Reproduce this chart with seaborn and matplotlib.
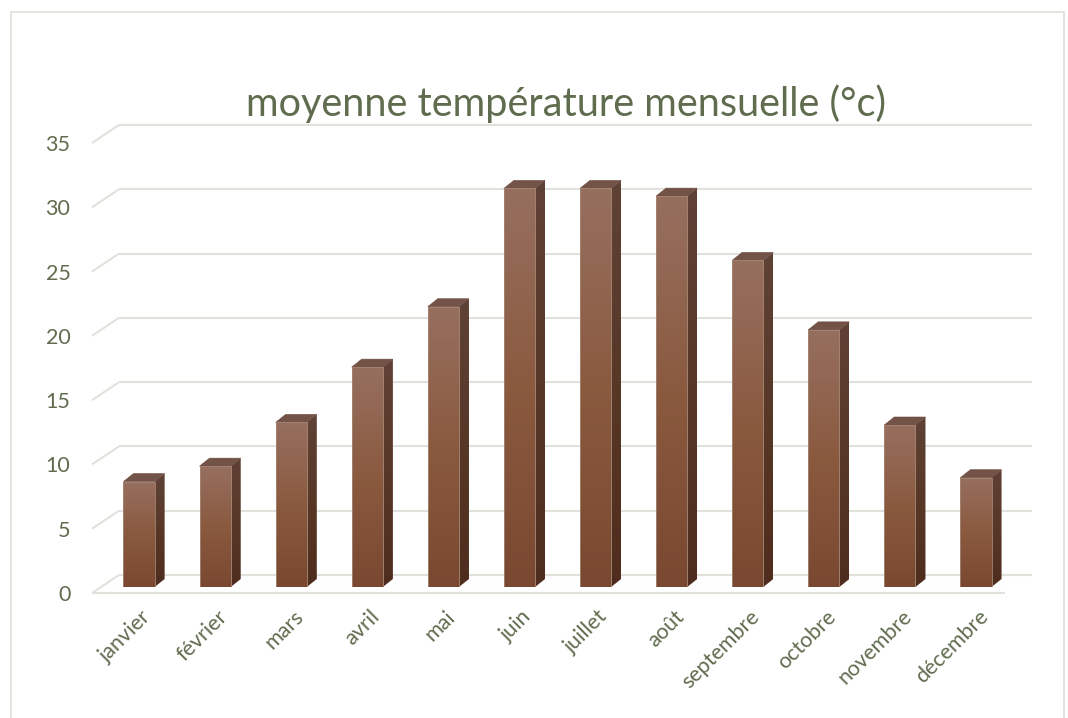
import matplotlib
matplotlib.use("Agg")
import matplotlib.pyplot as plt
import matplotlib.transforms as mtransforms
from matplotlib.colors import LinearSegmentedColormap
from matplotlib.patches import Polygon, Rectangle
import seaborn as sns
import numpy as np

months = ["janvier", "février", "mars", "avril", "mai", "juin",
          "juillet", "août", "septembre", "octobre", "novembre", "décembre"]
temps = [8.2, 9.4, 12.8, 17.1, 21.8, 31.0, 31.0, 30.4, 25.4, 20.0, 12.6, 8.5]
yticks = [0, 5, 10, 15, 20, 25, 30, 35]
title = "moyenne température mensuelle (°c)"

text_col = "#5f6c4e"
grid_col = "#e2e2dc"
front_cmap = LinearSegmentedColormap.from_list("front", ["#7a4830", "#8a5a3f", "#976f5f"])
side_cmap = LinearSegmentedColormap.from_list("side", ["#4f2d1e", "#573726", "#5f4236"])
top_col = "#735347"

sns.set_style("white")
plt.rcParams["font.family"] = ["Lato", "DejaVu Sans"]

W, H, DPI = 1068, 718, 100
fig = plt.figure(figsize=(W / DPI, H / DPI), dpi=DPI)
# axes: bars' base plane
ax_l, ax_r, ax_b, ax_t = 101, 1014, 587, 137
ax = fig.add_axes([ax_l / W, 1 - ax_b / H, (ax_r - ax_l) / W, (ax_b - ax_t) / H])

sns.barplot(x=months, y=temps, order=months, width=0.41, color="#8a5a3f",
            saturation=1, ax=ax, zorder=3)

xlim = (-0.5, len(months) - 0.5)
ylim = (0, 35)
ppx = (ax_r - ax_l) / (xlim[1] - xlim[0])
ppy = (ax_b - ax_t) / (ylim[1] - ylim[0])

# depth offsets (pixels -> data units)
fx, fy = -9 / ppx, -6 / ppy     # front plane
bx, by = 18 / ppx, 12 / ppy     # back wall
dx, dy = 10 / ppx, 8 / ppy      # bar depth

grad = np.linspace(0, 1, 256).reshape(-1, 1)

# gridlines on the back wall plus slanted side-wall segment
for v in yticks:
    ax.plot([xlim[0] + bx, xlim[1] + bx], [v + by, v + by], color=grid_col,
            lw=1.5, zorder=0, clip_on=False, solid_capstyle="butt")
    ax.plot([xlim[0] + fx, xlim[0] + bx], [v + fy, v + by], color=grid_col,
            lw=1.5, zorder=0, clip_on=False, solid_capstyle="butt")
# floor front edge
ax.plot([xlim[0] + fx, xlim[1] + fx], [fy, fy], color=grid_col, lw=1.5,
        zorder=0, clip_on=False, solid_capstyle="butt")

for p in list(ax.patches):
    x0 = p.get_x()
    w = p.get_width()
    h = p.get_height()
    p.set_facecolor("none")
    p.set_edgecolor("#a68676")
    p.set_linewidth(0.6)
    p.set_zorder(3.2)
    im = ax.imshow(grad, extent=[x0, x0 + w, 0, h], origin="lower",
                   cmap=front_cmap, aspect="auto", zorder=3.1)
    im.set_clip_path(Rectangle((x0, 0), w, h, transform=ax.transData))
    side = Polygon([(x0 + w, 0), (x0 + w + dx, dy), (x0 + w + dx, h + dy), (x0 + w, h)],
                   closed=True, facecolor="none", edgecolor="none", zorder=3)
    ax.add_patch(side)
    ims = ax.imshow(grad, extent=[x0 + w, x0 + w + dx, 0, h + dy], origin="lower",
                    cmap=side_cmap, aspect="auto", zorder=3)
    ims.set_clip_path(side)
    top = Polygon([(x0, h), (x0 + w, h), (x0 + w + dx, h + dy), (x0 + dx, h + dy)],
                  closed=True, facecolor=top_col, edgecolor="#6a4a3e", lw=0.4, zorder=3.05)
    ax.add_patch(top)

ax.set_xlim(*xlim)
ax.set_ylim(*ylim)
ax.set_yticks(yticks)
ax.set_yticklabels([str(v) for v in yticks])
ax.set_xlabel("")
ax.set_ylabel("")
for s in ax.spines.values():
    s.set_visible(False)
ax.tick_params(axis="y", length=0, pad=22, labelsize=15.5, labelcolor=text_col)
ax.tick_params(axis="x", length=0, pad=14, labelsize=15.5, labelcolor=text_col)
ax.set_xticks(range(len(months)))
ax.set_xticklabels(months, rotation=45, ha="right", rotation_mode="anchor")

yoff = mtransforms.ScaledTranslation(0, -6 / DPI, fig.dpi_scale_trans)
for lab in ax.get_yticklabels():
    lab.set_transform(lab.get_transform() + yoff)
xoff = mtransforms.ScaledTranslation(2 / DPI, 0, fig.dpi_scale_trans)
for lab in ax.get_xticklabels():
    lab.set_transform(lab.get_transform() + xoff)

fig.text(566 / W, 1 - 116 / H, title, ha="center", va="baseline",
         fontsize=28.5, color=text_col)

# chart area border
fig.add_artist(Rectangle((11 / W, -0.05), (1064 - 11) / W, 1 - 12 / H + 0.05,
                         transform=fig.transFigure, facecolor="none",
                         edgecolor="#e0e0da", lw=1.2))

fig.savefig("out.png", dpi=DPI)
